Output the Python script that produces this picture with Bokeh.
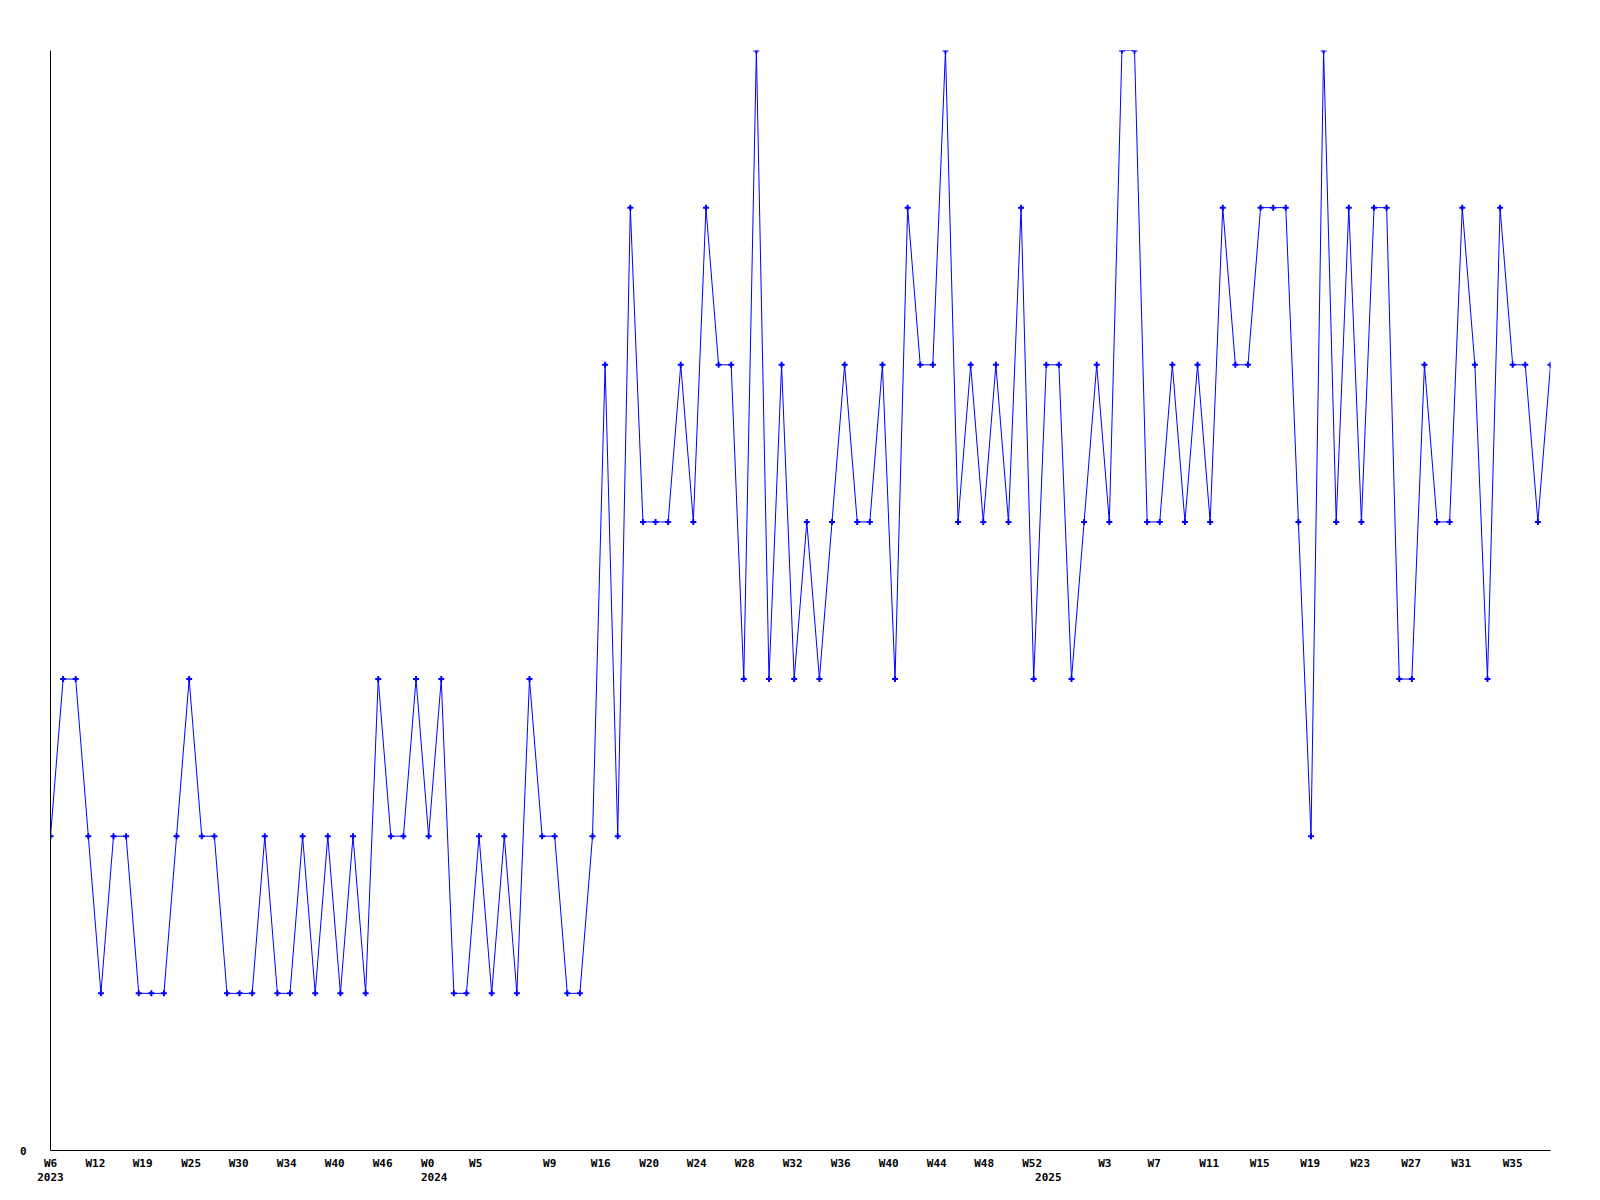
from bokeh.plotting import figure
from bokeh.models import FixedTicker, LinearAxis, Range1d
from bokeh.embed import file_html
from bokeh.resources import INLINE

# ---- data ----
values = [2, 3, 3, 2, 1, 2, 2, 1, 1, 1, 2, 3, 2, 2, 1, 1, 1, 2, 1, 1, 2, 1, 2, 1, 2, 1, 3, 2, 2, 3, 2,
          3, 1, 1, 2, 1, 2, 1, 3, 2, 2, 1, 1, 2,
          5, 2, 6, 4, 4, 4, 5, 4, 6, 5, 5, 3, 7, 3, 5, 3, 4, 3, 4, 5, 4, 4, 5, 3, 6, 5,
          5, 7, 4, 5, 4, 5, 4, 6, 3, 5, 5, 3, 4, 5, 4, 7, 7, 4, 4, 5, 4, 5, 4, 6, 5,
          5, 6, 6, 6, 4, 2, 7, 4, 6, 4, 6, 6, 3, 3, 5, 4, 4, 6, 5, 3, 6, 5, 5, 4, 5]
point_index = list(range(len(values)))

week_labels = ["W6", "W12", "W19", "W25", "W30", "W34", "W40", "W46", "W0", "W5",
               "W9", "W16", "W20", "W24", "W28", "W32", "W36", "W40", "W44", "W48",
               "W52", "W3", "W7", "W11", "W15", "W19", "W23", "W27", "W31", "W35"]
week_ticks = [0.0, 3.56, 7.31, 11.16, 14.93, 18.74, 22.55, 26.35, 29.92, 33.73,
              39.60, 43.65, 47.50, 51.27, 55.07, 58.88, 62.69, 66.50, 70.31, 74.07,
              77.88, 83.64, 87.56, 91.93, 95.93, 99.94, 103.90, 107.95, 111.92, 116.0]
year_labels = ["2023", "2024", "2025"]
year_ticks = [0.0, 30.44, 79.16]
y_ticks = [0]

X_START, X_END = 0, len(values) - 1
Y_START, Y_END = 0, 7

FONT = "DejaVu Sans Mono"
FSIZE = "11px"
BLUE = "#0000ff"

p = figure(frame_width=1500, frame_height=1100,
           x_range=Range1d(X_START, X_END), y_range=Range1d(Y_START, Y_END),
           output_backend="svg", toolbar_location=None,
           min_border_left=50, min_border_top=50, min_border_right=40, min_border_bottom=44,
           x_axis_type=None, y_axis_type=None)
p.outline_line_color = None
p.background_fill_color = "white"
p.border_fill_color = "white"

p.line(point_index, values, line_color=BLUE, line_width=1)
p.scatter(point_index, values, marker="cross", size=6, line_color=BLUE, line_width=2)


def style_axis(ax):
    ax.major_tick_line_color = None
    ax.minor_tick_line_color = None
    ax.major_label_text_font = FONT
    ax.major_label_text_font_style = "bold"
    ax.major_label_text_font_size = FSIZE
    ax.major_label_text_color = "black"


# left axis with only "0"
yax = LinearAxis(ticker=FixedTicker(ticks=y_ticks))
style_axis(yax)
yax.axis_line_color = "black"
yax.axis_line_width = 1
yax.major_label_standoff = 18
p.add_layout(yax, "left")

# week labels
xax = LinearAxis(ticker=FixedTicker(ticks=week_ticks))
xax.major_label_overrides = {t: l for t, l in zip(week_ticks, week_labels)}
style_axis(xax)
xax.axis_line_color = "black"
xax.axis_line_width = 1
xax.major_label_standoff = 0
p.add_layout(xax, "below")

# year labels
yrax = LinearAxis(ticker=FixedTicker(ticks=year_ticks))
yrax.major_label_overrides = {t: l for t, l in zip(year_ticks, year_labels)}
style_axis(yrax)
yrax.axis_line_color = None
yrax.major_label_standoff = -6
p.add_layout(yrax, "below")

open("out.html", "w").write(file_html(p, INLINE))
